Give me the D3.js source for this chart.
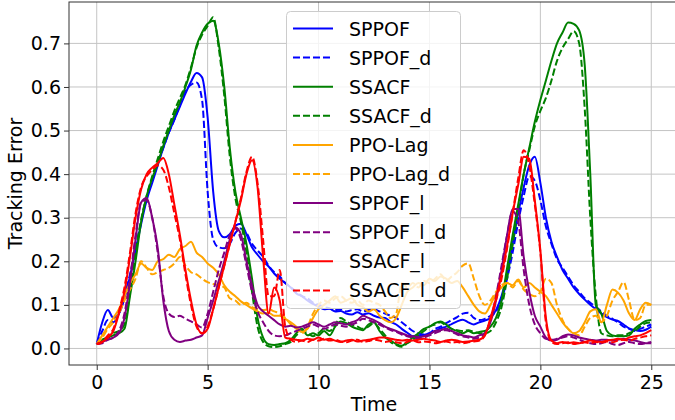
<!DOCTYPE html>
<html>
<head>
<meta charset="utf-8">
<script src="https://cdn.jsdelivr.net/npm/d3@7"></script>
<style>
  body { margin: 0; background: #fff; }
  svg { display: block; font-family: "DejaVu Sans", sans-serif; }
</style>
</head>
<body>
<svg id="chart-svg"></svg>
<script>
// sample times, every 0.25 s from 0 to 25
const time = d3.range(0, 101).map(i => i * 0.25);

const sppof = [
  0.01, 0.06, 0.088, 0.07, 0.08, 0.115, 0.165, 0.225, 0.285, 0.34,
  0.38, 0.42, 0.46, 0.495, 0.525, 0.555, 0.585, 0.612, 0.632, 0.622,
  0.53, 0.36, 0.27, 0.255, 0.262, 0.282, 0.286, 0.262, 0.232, 0.215,
  0.2, 0.188, 0.172, 0.16, 0.15, 0.14, 0.126, 0.12, 0.11, 0.102,
  0.096, 0.09, 0.091, 0.085, 0.086, 0.08, 0.078, 0.083, 0.078, 0.081,
  0.075, 0.071, 0.07, 0.061, 0.055, 0.045, 0.036, 0.028, 0.03, 0.031,
  0.035, 0.04, 0.046, 0.05, 0.056, 0.062, 0.066, 0.06, 0.055, 0.06,
  0.064, 0.07, 0.088, 0.12, 0.17, 0.24, 0.31, 0.37, 0.42, 0.44,
  0.38, 0.3, 0.245, 0.21, 0.18, 0.16, 0.14, 0.125, 0.112, 0.1,
  0.09, 0.08, 0.072, 0.066, 0.063, 0.055, 0.046, 0.042, 0.04, 0.043,
  0.05];
const sppofD = [
  0.01, 0.04, 0.065, 0.06, 0.08, 0.12, 0.17, 0.23, 0.29, 0.345,
  0.385, 0.425, 0.46, 0.495, 0.525, 0.56, 0.59, 0.605, 0.61, 0.57,
  0.36, 0.25, 0.232, 0.23, 0.24, 0.265, 0.275, 0.265, 0.24, 0.225,
  0.21, 0.19, 0.175, 0.165, 0.15, 0.14, 0.13, 0.12, 0.115, 0.105,
  0.1, 0.095, 0.092, 0.088, 0.09, 0.085, 0.088, 0.09, 0.085, 0.088,
  0.09, 0.085, 0.08, 0.075, 0.07, 0.06, 0.05, 0.04, 0.035, 0.032,
  0.035, 0.045, 0.05, 0.058, 0.065, 0.072, 0.08, 0.082, 0.07, 0.065,
  0.068, 0.075, 0.085, 0.11, 0.16, 0.22, 0.29, 0.35, 0.395, 0.385,
  0.34, 0.28, 0.24, 0.205, 0.185, 0.165, 0.145, 0.13, 0.115, 0.105,
  0.095, 0.085, 0.075, 0.068, 0.06, 0.05, 0.045, 0.04, 0.045, 0.05,
  0.055];
const ssacf = [
  0.01, 0.02, 0.025, 0.03, 0.035, 0.045, 0.12, 0.2, 0.29, 0.35,
  0.39, 0.425, 0.465, 0.5, 0.535, 0.565, 0.6, 0.64, 0.695, 0.725,
  0.745, 0.752, 0.7, 0.6, 0.46, 0.36, 0.3, 0.24, 0.16, 0.07,
  0.025, 0.01, 0.008, 0.01, 0.012, 0.02, 0.035, 0.045, 0.03, 0.035,
  0.03, 0.04, 0.03, 0.05, 0.062, 0.058, 0.05, 0.045, 0.042, 0.055,
  0.06, 0.04, 0.025, 0.018, 0.01, 0.006, 0.015, 0.025, 0.035, 0.045,
  0.05, 0.058, 0.062, 0.055, 0.045, 0.04, 0.035, 0.04, 0.035, 0.038,
  0.04, 0.05, 0.07, 0.11, 0.185, 0.26, 0.33, 0.4, 0.46, 0.52,
  0.57, 0.615, 0.66, 0.7, 0.725, 0.748, 0.745, 0.73, 0.65, 0.4,
  0.1, 0.08, 0.04, 0.03, 0.028, 0.028, 0.03, 0.045, 0.055, 0.063,
  0.065];
const ssacfD = [
  0.01, 0.015, 0.025, 0.035, 0.04, 0.055, 0.13, 0.22, 0.295, 0.35,
  0.395, 0.435, 0.475, 0.51, 0.545, 0.575, 0.605, 0.645, 0.69, 0.72,
  0.74, 0.76, 0.69, 0.58, 0.44, 0.345, 0.29, 0.22, 0.13, 0.05,
  0.015, 0.005, 0.003, 0.005, 0.01, 0.015, 0.03, 0.04, 0.035, 0.028,
  0.035, 0.045, 0.04, 0.055, 0.07, 0.062, 0.055, 0.05, 0.045, 0.05,
  0.058, 0.045, 0.03, 0.015, 0.008, 0.004, 0.012, 0.02, 0.03, 0.04,
  0.05, 0.055, 0.06, 0.052, 0.045, 0.042, 0.04, 0.042, 0.038, 0.035,
  0.035, 0.04, 0.06, 0.095, 0.16, 0.24, 0.32, 0.4, 0.455, 0.51,
  0.545, 0.575, 0.615, 0.66, 0.69, 0.71, 0.728, 0.7, 0.55, 0.3,
  0.12, 0.035, 0.03, 0.028, 0.03, 0.03, 0.035, 0.04, 0.05, 0.058,
  0.06];
const ppoLag = [
  0.01, 0.03, 0.05, 0.07, 0.09, 0.12, 0.15, 0.17, 0.195, 0.185,
  0.18, 0.2, 0.205, 0.215, 0.21, 0.228, 0.235, 0.245, 0.22, 0.21,
  0.195, 0.185, 0.17, 0.145, 0.13, 0.12, 0.108, 0.1, 0.092, 0.085,
  0.08, 0.082, 0.075, 0.075, 0.068, 0.06, 0.05, 0.038, 0.045, 0.07,
  0.09, 0.1, 0.11, 0.12, 0.105, 0.11, 0.115, 0.1, 0.095, 0.085,
  0.09, 0.075, 0.065, 0.06, 0.07, 0.1, 0.13, 0.14, 0.15, 0.145,
  0.16, 0.155, 0.165, 0.16, 0.15, 0.155, 0.14, 0.12, 0.1, 0.085,
  0.08, 0.1, 0.125, 0.14, 0.15, 0.145, 0.158, 0.14, 0.15, 0.14,
  0.13, 0.12, 0.1, 0.08, 0.06, 0.045, 0.035, 0.04, 0.06, 0.085,
  0.09, 0.06, 0.1, 0.135, 0.128, 0.11, 0.08, 0.065, 0.09, 0.105,
  0.1];
const ppoLagD = [
  0.01, 0.025, 0.045, 0.06, 0.08, 0.11, 0.135, 0.16, 0.2, 0.185,
  0.17, 0.175, 0.18, 0.185, 0.195, 0.21, 0.19, 0.175, 0.17, 0.16,
  0.152, 0.148, 0.145, 0.14, 0.115, 0.11, 0.1, 0.105, 0.095, 0.09,
  0.088, 0.09, 0.085, 0.08, 0.07, 0.055, 0.045, 0.035, 0.05, 0.08,
  0.1, 0.11, 0.105, 0.115, 0.12, 0.11, 0.105, 0.11, 0.1, 0.11,
  0.105, 0.1, 0.085, 0.07, 0.08, 0.15, 0.14, 0.15, 0.14, 0.155,
  0.15, 0.16, 0.17, 0.155, 0.165, 0.175, 0.19, 0.195, 0.16, 0.12,
  0.1, 0.11, 0.13, 0.145, 0.15, 0.14, 0.155, 0.135, 0.125, 0.12,
  0.13, 0.16, 0.15, 0.1, 0.065, 0.045, 0.035, 0.03, 0.05, 0.07,
  0.075, 0.06, 0.075, 0.11, 0.13, 0.152, 0.11, 0.065, 0.07, 0.1,
  0.1];
const sppofL = [
  0.01, 0.015, 0.02, 0.025, 0.035, 0.07, 0.15, 0.25, 0.335, 0.345,
  0.3, 0.23, 0.11, 0.04, 0.02, 0.015, 0.018, 0.02, 0.025, 0.03,
  0.07, 0.11, 0.155, 0.2, 0.25, 0.278, 0.262, 0.2, 0.145, 0.1,
  0.085, 0.075, 0.065, 0.055, 0.05, 0.052, 0.048, 0.05, 0.055, 0.06,
  0.055, 0.05, 0.055, 0.06, 0.058, 0.055, 0.06, 0.065, 0.075, 0.07,
  0.065, 0.058, 0.05, 0.045, 0.04, 0.035, 0.03, 0.028, 0.026, 0.028,
  0.032, 0.04, 0.042, 0.045, 0.04, 0.035, 0.03, 0.028, 0.025, 0.03,
  0.035, 0.06, 0.11, 0.18, 0.26, 0.32, 0.32, 0.21, 0.13, 0.075,
  0.05, 0.025, 0.018, 0.02, 0.028, 0.032, 0.03, 0.025, 0.022, 0.02,
  0.018, 0.02, 0.02, 0.018, 0.02, 0.022, 0.02, 0.018, 0.015, 0.012,
  0.012];
const sppofLD = [
  0.01, 0.012, 0.02, 0.025, 0.04, 0.08, 0.16, 0.26, 0.335, 0.34,
  0.3, 0.22, 0.12, 0.08, 0.072, 0.075, 0.068, 0.062, 0.055, 0.048,
  0.08, 0.13, 0.18, 0.22, 0.26, 0.275, 0.25, 0.19, 0.13, 0.085,
  0.06, 0.04, 0.03, 0.028, 0.03, 0.035, 0.04, 0.045, 0.05, 0.055,
  0.05, 0.045, 0.05, 0.055, 0.052, 0.05, 0.055, 0.06, 0.068, 0.065,
  0.06, 0.055, 0.048, 0.042, 0.038, 0.032, 0.028, 0.025, 0.022, 0.025,
  0.03, 0.035, 0.04, 0.042, 0.038, 0.032, 0.028, 0.025, 0.022, 0.025,
  0.035, 0.065, 0.12, 0.19, 0.26, 0.315, 0.29, 0.18, 0.1, 0.055,
  0.035, 0.022, 0.02, 0.022, 0.025, 0.028, 0.025, 0.02, 0.015, 0.012,
  0.01, 0.012, 0.015, 0.01, 0.008, 0.012, 0.015, 0.012, 0.01, 0.012,
  0.015];
const ssacfL = [
  0.01, 0.015, 0.025, 0.04, 0.08, 0.13, 0.21, 0.3, 0.365, 0.4,
  0.415, 0.425, 0.437, 0.4, 0.33, 0.26, 0.18, 0.11, 0.055, 0.034,
  0.045, 0.09, 0.14, 0.19, 0.24, 0.29, 0.34, 0.4, 0.432, 0.37,
  0.21, 0.08, 0.14, 0.11, 0.025, 0.022, 0.02, 0.018, 0.022, 0.02,
  0.025, 0.02, 0.022, 0.018, 0.015, 0.018, 0.02, 0.016, 0.018, 0.02,
  0.022, 0.025, 0.025, 0.022, 0.02, 0.018, 0.02, 0.018, 0.02, 0.022,
  0.02, 0.018, 0.015, 0.018, 0.02, 0.018, 0.015, 0.016, 0.018, 0.02,
  0.03, 0.07, 0.115, 0.17, 0.235, 0.31, 0.375, 0.44, 0.435, 0.34,
  0.225, 0.07, 0.018, 0.012, 0.015, 0.012, 0.014, 0.012, 0.015, 0.018,
  0.016, 0.015, 0.018, 0.02, 0.022, 0.02, 0.025, 0.028, 0.03, 0.035,
  0.042];
const ssacfLD = [
  0.01, 0.015, 0.03, 0.045, 0.085, 0.14, 0.22, 0.31, 0.37, 0.395,
  0.41, 0.42, 0.41, 0.37, 0.31, 0.25, 0.17, 0.1, 0.05, 0.035,
  0.05, 0.09, 0.14, 0.19, 0.24, 0.29, 0.345, 0.405, 0.44, 0.38,
  0.25, 0.12, 0.12, 0.18, 0.05, 0.02, 0.015, 0.018, 0.015, 0.02,
  0.018, 0.022, 0.018, 0.02, 0.016, 0.014, 0.018, 0.02, 0.015, 0.017,
  0.02, 0.018, 0.015, 0.017, 0.014, 0.012, 0.015, 0.018, 0.014, 0.016,
  0.015, 0.012, 0.014, 0.016, 0.013, 0.015, 0.012, 0.014, 0.016, 0.018,
  0.03, 0.065, 0.11, 0.16, 0.23, 0.31, 0.39, 0.455, 0.42, 0.33,
  0.22, 0.06, 0.015, 0.01, 0.012, 0.014, 0.01, 0.012, 0.014, 0.012,
  0.015, 0.013, 0.016, 0.014, 0.018, 0.02, 0.018, 0.022, 0.025, 0.028,
  0.03];

const names = ['SPPOF', 'SPPOF_d', 'SSACF', 'SSACF_d', 'PPO-Lag', 'PPO-Lag_d',
               'SPPOF_l', 'SPPOF_l_d', 'SSACF_l', 'SSACF_l_d'];
const colors = ['blue', 'blue', 'green', 'green', 'orange', 'orange',
                'purple', 'purple', 'red', 'red'];
const dashed = [false, true, false, true, false, true, false, true, false, true];
const values = [sppof, sppofD, ssacf, ssacfD, ppoLag, ppoLagD, sppofL, sppofLD, ssacfL, ssacfLD];

const xTicks = [0, 5, 10, 15, 20, 25];
const yTicks = [0, 0.1, 0.2, 0.3, 0.4, 0.5, 0.6, 0.7];

const width = 675, height = 420;
const plot = {left: 69, right: 679, top: 2, bottom: 365};
const fontSize = 19;

const svg = d3.select('#chart-svg')
    .attr('width', width)
    .attr('height', height);

const x = d3.scaleLinear().domain([-1.25, 26.25]).range([plot.left, plot.right]);
const y = d3.scaleLinear().domain([-0.038, 0.795]).range([plot.bottom, plot.top]);

svg.append('clipPath').attr('id', 'plot-clip')
    .append('rect')
    .attr('x', plot.left).attr('y', plot.top)
    .attr('width', plot.right - plot.left).attr('height', plot.bottom - plot.top);

// grid
const grid = svg.append('g').attr('stroke', '#c4c4c4').attr('stroke-width', 1);
grid.selectAll('.gx').data(xTicks).enter().append('line')
    .attr('x1', d => x(d)).attr('x2', d => x(d))
    .attr('y1', plot.top).attr('y2', plot.bottom);
grid.selectAll('.gy').data(yTicks).enter().append('line')
    .attr('x1', plot.left).attr('x2', plot.right)
    .attr('y1', d => y(d)).attr('y2', d => y(d));

// the lines
const line = d3.line()
    .curve(d3.curveMonotoneX)
    .x((d, i) => x(time[i]))
    .y(d => y(d));

svg.append('g').attr('clip-path', 'url(#plot-clip)')
    .selectAll('path')
    .data(values)
    .enter()
    .append('path')
    .attr('fill', 'none')
    .attr('stroke', (d, i) => colors[i])
    .attr('stroke-width', 2)
    .attr('stroke-linejoin', 'round')
    .attr('stroke-dasharray', (d, i) => dashed[i] ? '7,3' : null)
    .attr('d', d => line(d));

// frame
svg.append('rect')
    .attr('x', plot.left).attr('y', plot.top)
    .attr('width', plot.right - plot.left).attr('height', plot.bottom - plot.top)
    .attr('fill', 'none').attr('stroke', '#333').attr('stroke-width', 1);

// axes
const xAxis = svg.append('g')
    .attr('transform', 'translate(0,' + plot.bottom + ')')
    .call(d3.axisBottom(x).tickValues(xTicks).tickSize(5).tickPadding(6).tickFormat(d3.format('d')));
const yAxis = svg.append('g')
    .attr('transform', 'translate(' + plot.left + ',0)')
    .call(d3.axisLeft(y).tickValues(yTicks).tickSize(5).tickPadding(3).tickFormat(d3.format('.1f')));

[xAxis, yAxis].forEach(function (a) {
    a.select('.domain').remove();
    a.selectAll('.tick line').attr('stroke', '#333');
    a.selectAll('.tick text')
        .attr('fill', 'black')
        .style('font-size', fontSize + 'px')
        .style('font-family', '"DejaVu Sans", sans-serif');
});

svg.append('text')
    .attr('x', (plot.left + plot.right) / 2)
    .attr('y', 411)
    .attr('text-anchor', 'middle')
    .style('font-size', fontSize + 'px')
    .text('Time');

svg.append('text')
    .attr('transform', 'rotate(-90)')
    .attr('x', -(plot.top + plot.bottom) / 2)
    .attr('y', 22)
    .attr('text-anchor', 'middle')
    .style('font-size', fontSize + 'px')
    .text('Tracking Error');

// legend
const legend = svg.append('g');
legend.append('rect')
    .attr('x', 286.5).attr('y', 11.5)
    .attr('width', 174).attr('height', 297)
    .attr('rx', 4)
    .attr('fill', 'white').attr('fill-opacity', 0.8)
    .attr('stroke', '#cccccc');

const rowY = i => 28.5 + i * 29.1;
const entries = legend.selectAll('.entry').data(names).enter().append('g');
entries.append('line')
    .attr('x1', 293).attr('x2', 333)
    .attr('y1', (d, i) => rowY(i)).attr('y2', (d, i) => rowY(i))
    .attr('stroke', (d, i) => colors[i])
    .attr('stroke-width', 2)
    .attr('stroke-dasharray', (d, i) => dashed[i] ? '7,3' : null);
entries.append('text')
    .attr('x', 349)
    .attr('y', (d, i) => rowY(i) + 7)
    .style('font-size', fontSize + 'px')
    .text(d => d);
</script>
</body>
</html>
